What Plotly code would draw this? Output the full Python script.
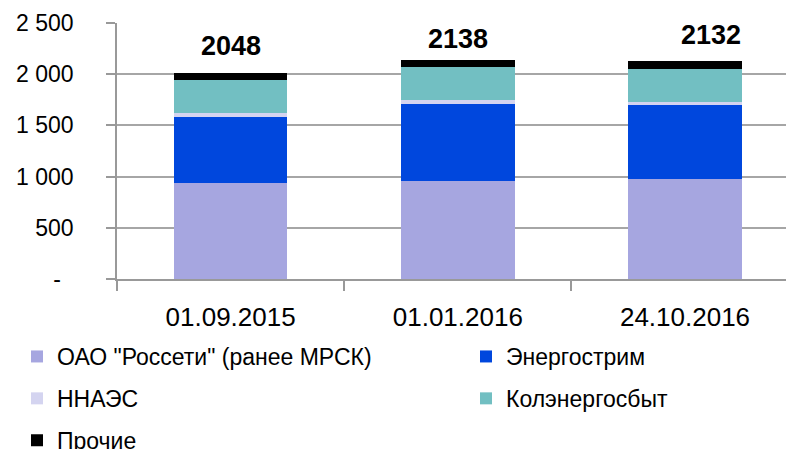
import plotly.graph_objects as go

categories = ["01.09.2015", "01.01.2016", "24.10.2016"]
rosseti = [938, 960, 974]
energostrim = [645, 747, 723]
nnaes = [39, 38, 32]
kolenergosbyt = [325, 322, 322]
prochie = [69, 68, 77]
totals = [2048, 2138, 2132]

series_names = ['ОАО "Россети" (ранее МРСК)', "Энергострим", "ННАЭС", "Колэнергосбыт", "Прочие"]
series_values = [rosseti, energostrim, nnaes, kolenergosbyt, prochie]
colors = ["#a6a6e0", "#0047dd", "#d4d4f0", "#72bfc2", "#000000"]
legend_ids = ["legend", "legend2", "legend", "legend2", "legend"]

y_tickvals = [0, 500, 1000, 1500, 2000, 2500]
y_ticktext = ["-\u00a0\u00a0", "500", "1 000", "1 500", "2 000", "2 500"]

FONT = "Liberation Sans, Arial, sans-serif"

fig = go.Figure()
for i, (name, vals, col, lg) in enumerate(zip(series_names, series_values, colors, legend_ids)):
    fig.add_trace(go.Bar(x=categories, y=vals, name=name, legend=lg, legendgroup=f"g{i}",
                         marker=dict(color=col, line=dict(width=0))))

label_yshift = [23, 21, 26]
label_xshift = [0, 0, 26]
for c, t, ys, xs in zip(categories, totals, label_yshift, label_xshift):
    fig.add_annotation(x=c, y=t, text=f"<b>{t}</b>", showarrow=False, yanchor="middle",
                       yshift=ys, xshift=xs,
                       font=dict(family=FONT, size=27, color="black"))

legend_common = dict(orientation="v", xref="container", yref="container", xanchor="left",
                     yanchor="top", tracegroupgap=9, bgcolor="rgba(0,0,0,0)",
                     font=dict(family=FONT, size=23, color="black"))

fig.update_layout(
    width=794, height=449,
    barmode="stack", bargap=0.5,
    paper_bgcolor="white", plot_bgcolor="white",
    margin=dict(l=109, r=0, t=15, b=178, autoexpand=False),
    xaxis=dict(range=[-0.5, 2.515], tickson="boundaries", ticks="outside", ticklen=10,
               tickcolor="#999999", tickwidth=1.5, showline=True, linecolor="#999999", linewidth=1.5,
               tickfont=dict(family=FONT, size=26, color="black"), showgrid=False,
               automargin=False, ticklabelstandoff=14, tickangle=0),
    yaxis=dict(range=[0, 2500], tickvals=y_tickvals, ticktext=y_ticktext, ticks="outside", ticklen=9,
               tickcolor="#999999", tickwidth=1.5, showline=True, linecolor="#999999", linewidth=1.5,
               showgrid=True, gridcolor="#a6a6a6", gridwidth=1.5, zeroline=False,
               tickfont=dict(family=FONT, size=23, color="black"),
               automargin=False, ticklabelstandoff=28),
    legend=dict(x=9 / 794, y=1 - 327 / 449, **legend_common),
    legend2=dict(x=458 / 794, y=1 - 327 / 449, **legend_common),
    showlegend=True,
)

fig.write_html("out.html")
